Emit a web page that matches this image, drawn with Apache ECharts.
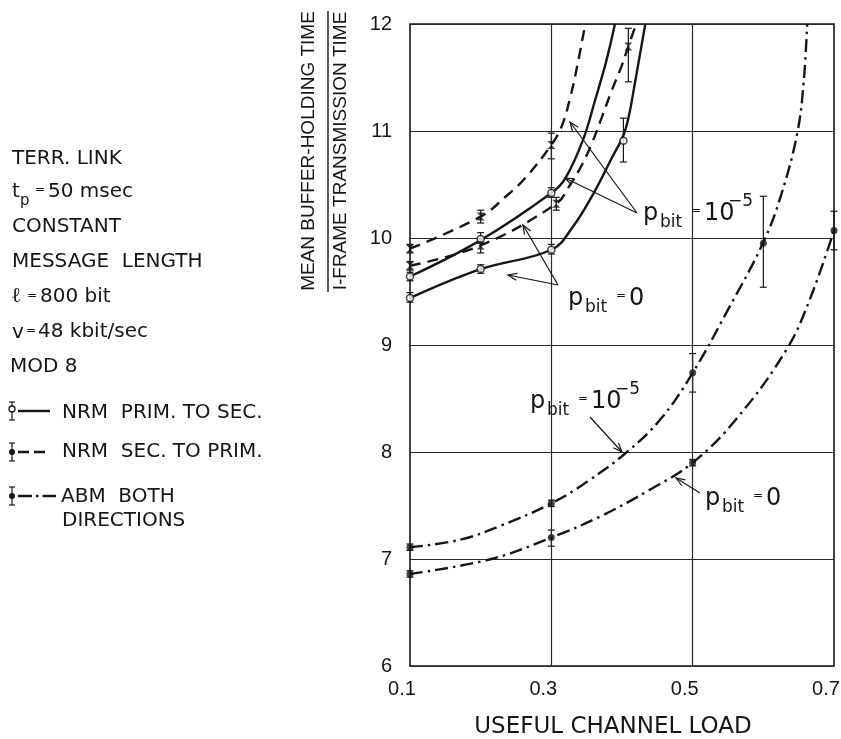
<!DOCTYPE html>
<html>
<head>
<meta charset="utf-8">
<title>Mean buffer-holding time vs useful channel load</title>
<script src="https://cdn.jsdelivr.net/npm/echarts@6/dist/echarts.min.js"></script>
<style>
  html, body { margin: 0; padding: 0; background: #fff; }
  #chart { width: 841px; height: 739px; }
</style>
</head>
<body>
<div id="chart"></div>
<script>
// fitted curves: [useful channel load, time ratio]
const nrmPrimP0 = [[0.1, 9.44], [0.2, 9.71], [0.3, 9.89], [0.33, 10.1], [0.36, 10.42], [0.385, 10.74], [0.402, 10.96], [0.41, 11.15], [0.417, 11.4], [0.425, 11.7], [0.433, 12]];
const nrmPrimP5 = [[0.1, 9.64], [0.2, 9.98], [0.3, 10.42], [0.32, 10.56], [0.345, 10.92], [0.362, 11.29], [0.378, 11.66], [0.39, 12]];
const nrmSecP0 = [[0.1, 9.74], [0.2, 9.93], [0.307, 10.32], [0.324, 10.47], [0.343, 10.68], [0.357, 10.88], [0.371, 11.12], [0.385, 11.37], [0.399, 11.6], [0.409, 11.79], [0.42, 12]];
const nrmSecP5 = [[0.1, 9.9], [0.2, 10.2], [0.236, 10.39], [0.263, 10.56], [0.3, 10.87], [0.315, 11.05], [0.327, 11.32], [0.337, 11.62], [0.348, 12]];
const abmP0 = [[0.1, 6.86], [0.215, 7.0], [0.3, 7.2], [0.37, 7.4], [0.44, 7.65], [0.5, 7.9], [0.562, 8.31], [0.633, 8.96], [0.666, 9.43], [0.7, 10.07]];
const abmP5 = [[0.1, 7.11], [0.171, 7.18], [0.228, 7.31], [0.3, 7.52], [0.35, 7.72], [0.407, 8.0], [0.455, 8.31], [0.5, 8.74], [0.55, 9.33], [0.6, 9.96], [0.626, 10.42], [0.648, 10.98], [0.657, 11.45], [0.662, 12]];

// simulation points: [load, mean, low, high]
const nrmPrimP0Pts = [[0.1, 9.44, 9.4, 9.49], [0.2, 9.71, 9.67, 9.75], [0.3, 9.89, 9.85, 9.94], [0.402, 10.91, 10.71, 11.12]];
const nrmPrimP5Pts = [[0.1, 9.64, 9.6, 9.68], [0.2, 9.99, 9.95, 10.05], [0.3, 10.42, 10.38, 10.47]];
const nrmSecP0Pts = [[0.1, 9.74, 9.7, 9.78], [0.2, 9.93, 9.86, 9.99], [0.307, 10.32, 10.26, 10.38], [0.409, 11.79, 11.46, 11.96]];
const nrmSecP5Pts = [[0.1, 9.9, 9.86, 9.94], [0.2, 10.2, 10.14, 10.26], [0.3, 10.87, 10.74, 10.98]];
const abmP0Pts = [[0.1, 6.86, 6.83, 6.89], [0.3, 7.2, 7.12, 7.27], [0.5, 7.9, 7.87, 7.93], [0.7, 10.07, 9.89, 10.25]];
const abmP5Pts = [[0.1, 7.11, 7.08, 7.14], [0.3, 7.52, 7.49, 7.55], [0.5, 8.74, 8.56, 8.92], [0.6, 9.95, 9.54, 10.39]];

const xLabels = [0.1, 0.3, 0.5, 0.7];
const xGrid = [0.3, 0.5];

const INK = '#161616';
const FONT = '"DejaVu Sans", sans-serif';
const NARROW = '"Liberation Sans", sans-serif';
const SOLID = 'solid';
const DASHED = [11, 7];
const DASHDOT = [13, 5, 2.5, 5];

function curve(name, data, type) {
  return {
    name: name, type: 'line', data: data, smooth: 0.4,
    symbol: 'none', silent: true, z: 3,
    lineStyle: { color: INK, width: 2.4, type: type }
  };
}

function errBars(pts) {
  return {
    type: 'custom', data: pts, silent: true, z: 4,
    encode: { x: 0, y: 1 },
    renderItem: function (params, api) {
      const x = api.value(0);
      const lo = api.coord([x, api.value(2)]);
      const hi = api.coord([x, api.value(3)]);
      const w = 3.5;
      const st = { stroke: INK, lineWidth: 1.2 };
      return {
        type: 'group',
        children: [
          { type: 'line', shape: { x1: lo[0], y1: lo[1], x2: hi[0], y2: hi[1] }, style: st },
          { type: 'line', shape: { x1: lo[0] - w, y1: lo[1], x2: lo[0] + w, y2: lo[1] }, style: st },
          { type: 'line', shape: { x1: hi[0] - w, y1: hi[1], x2: hi[0] + w, y2: hi[1] }, style: st }
        ]
      };
    }
  };
}

const HOURGLASS = 'path://M0,0L10,0L5,5L10,10L0,10L5,5Z';

function marks(pts, kind) {
  const s = { type: 'scatter', data: pts, encode: { x: 0, y: 1 }, silent: true, z: 5 };
  if (kind === 'open') {
    s.symbol = 'circle'; s.symbolSize = 7;
    s.itemStyle = { color: '#fff', borderColor: INK, borderWidth: 1.5 };
  } else if (kind === 'star') {
    s.symbol = HOURGLASS; s.symbolSize = 8;
    s.itemStyle = { color: INK };
  } else {
    s.symbol = 'circle'; s.symbolSize = 7;
    s.itemStyle = { color: INK };
  }
  return s;
}

// ---- graphic helpers (text, arrows, legend) ----
function txt(t, x, y, size, font) {
  return {
    type: 'text', x: x, y: y, silent: true, z: 10,
    style: { text: t, font: size + 'px ' + (font || FONT), fill: INK, align: 'left', verticalAlign: 'middle' }
  };
}

function arrow(sx, sy, tx, ty) {
  const dx = tx - sx, dy = ty - sy, len = Math.hypot(dx, dy);
  const ux = dx / len, uy = dy / len;
  const hl = 9, hw = 3.5;
  const bx = tx - ux * hl, by = ty - uy * hl;
  const st = { stroke: INK, lineWidth: 1.2, fill: null };
  return [
    { type: 'line', silent: true, z: 10, shape: { x1: sx, y1: sy, x2: tx, y2: ty }, style: st },
    { type: 'polyline', silent: true, z: 10, shape: { points: [[bx - uy * hw, by + ux * hw], [tx, ty], [bx + uy * hw, by - ux * hw]] }, style: st }
  ];
}

// "p_bit = value^exp" placed with p at (x, y)
function pbit(x, y, value, exp) {
  const els = [
    txt('p', x, y, 24),
    txt('bit', x + 17, y + 9, 17),
    txt('=', x + 48, y - 3, 12),
    txt(value, x + 61, y, 24)
  ];
  if (exp) els.push(txt(exp, x + 61 + 24, y - 12, 17));
  return els;
}

function legendRow(y, marker, dash, x2) {
  const st = { stroke: INK, lineWidth: 1.2 };
  const els = [
    { type: 'line', silent: true, shape: { x1: 12, y1: y - 9, x2: 12, y2: y + 9 }, style: st },
    { type: 'line', silent: true, shape: { x1: 9, y1: y - 9, x2: 15, y2: y - 9 }, style: st },
    { type: 'line', silent: true, shape: { x1: 9, y1: y + 9, x2: 15, y2: y + 9 }, style: st },
    { type: 'line', silent: true, shape: { x1: 18, y1: y, x2: x2, y2: y },
      style: { stroke: INK, lineWidth: 2.4, lineDash: dash === SOLID ? null : dash } }
  ];
  if (marker === 'open') {
    els.push({ type: 'circle', silent: true, shape: { cx: 12, cy: y - 2, r: 3 }, style: { fill: '#fff', stroke: INK, lineWidth: 1.3 } });
  } else {
    els.push({ type: 'circle', silent: true, shape: { cx: 12, cy: y, r: 3 }, style: { fill: INK } });
  }
  return els;
}

const notes = [].concat(
  // left-hand description
  txt('TERR. LINK', 12, 159, 20),
  txt('t', 12, 192, 20), txt('p', 20, 201, 15), txt('=', 35, 190, 12), txt('50 msec', 48, 192, 20),
  txt('CONSTANT', 12, 227, 20),
  txt('MESSAGE  LENGTH', 12, 262, 20),
  txt('ℓ', 11, 297, 21, '"DejaVu Serif", serif'), txt('=', 27, 296, 12), txt('800 bit', 40, 297, 20),
  txt('v', 12, 333, 20), txt('=', 26, 331, 12), txt('48 kbit/sec', 38, 332, 20),
  txt('MOD 8', 10, 367, 20),
  legendRow(411, 'open', SOLID, 50), txt('NRM  PRIM. TO SEC.', 62, 413, 20),
  legendRow(452, 'star', [11, 5], 49), txt('NRM  SEC. TO PRIM.', 62, 452, 20),
  legendRow(496, 'fill', [14, 4, 2.5, 4], 56), txt('ABM  BOTH', 61, 497, 20),
  txt('DIRECTIONS', 62, 521, 20),
  // y-axis title as a fraction
  { type: 'text', x: 309, y: 151, rotation: Math.PI / 2, silent: true,
    style: { text: 'MEAN BUFFER-HOLDING TIME', font: '19px ' + NARROW, fill: INK, align: 'center', verticalAlign: 'middle' } },
  { type: 'line', silent: true, shape: { x1: 328, y1: 11, x2: 328, y2: 292 }, style: { stroke: INK, lineWidth: 1.4 } },
  { type: 'text', x: 341, y: 151, rotation: Math.PI / 2, silent: true,
    style: { text: 'I-FRAME TRANSMISSION TIME', font: '19px ' + NARROW, fill: INK, align: 'center', verticalAlign: 'middle' } },
  // curve annotations
  pbit(643, 214, '10', '−5'), arrow(637, 213, 570, 122), arrow(637, 213, 565, 178),
  pbit(568, 299, '0'), arrow(558, 285, 523, 225), arrow(558, 285, 508, 275),
  pbit(530, 402, '10', '−5'), arrow(590, 417, 622, 452),
  pbit(705, 499, '0'), arrow(700, 493, 676, 478)
);

const chart = echarts.init(document.getElementById('chart'), null, { renderer: 'canvas' });
chart.setOption({
  animation: false,
  backgroundColor: '#fff',
  grid: {
    left: 410, right: 7, top: 24, bottom: 73, show: true,
    borderColor: INK, borderWidth: 1.6, containLabel: false, outerBoundsMode: 'none'
  },
  xAxis: {
    type: 'value', min: 0.1, max: 0.7, interval: 0.1,
    name: 'USEFUL CHANNEL LOAD', nameLocation: 'middle', nameGap: 50,
    nameTextStyle: { fontFamily: FONT, fontSize: 23, color: INK, padding: [0, 18, 0, 0] },
    axisLine: { show: false }, axisTick: { show: false }, splitLine: { show: false },
    axisLabel: {
      margin: 13, fontSize: 20, color: INK, fontFamily: NARROW, padding: [0, 16, 0, 0],
      showMinLabel: true, showMaxLabel: true,
      formatter: function (v) {
        return xLabels.some(function (l) { return Math.abs(l - v) < 1e-6; }) ? v.toFixed(1) : '';
      }
    }
  },
  yAxis: {
    type: 'value', min: 6, max: 12, interval: 1,
    axisLine: { show: false }, axisTick: { show: false },
    splitLine: { lineStyle: { color: '#2a2a2a', width: 1.2 } },
    axisLabel: { margin: 18, fontSize: 20, color: INK, fontFamily: NARROW }
  },
  series: [
    { type: 'line', data: [], silent: true, z: 1,
      markLine: { silent: true, symbol: 'none', label: { show: false },
        lineStyle: { color: '#2a2a2a', width: 1.2, type: 'solid' },
        emphasis: { disabled: true },
        data: xGrid.map(function (v) { return { xAxis: v }; }) } },
    curve('NRM prim. to sec., p=0', nrmPrimP0, SOLID),
    curve('NRM prim. to sec., p=1e-5', nrmPrimP5, SOLID),
    curve('NRM sec. to prim., p=0', nrmSecP0, DASHED),
    curve('NRM sec. to prim., p=1e-5', nrmSecP5, DASHED),
    curve('ABM, p=0', abmP0, DASHDOT),
    curve('ABM, p=1e-5', abmP5, DASHDOT),
    errBars(nrmPrimP0Pts), errBars(nrmPrimP5Pts), errBars(nrmSecP0Pts),
    errBars(nrmSecP5Pts), errBars(abmP0Pts), errBars(abmP5Pts),
    marks(nrmPrimP0Pts, 'open'), marks(nrmPrimP5Pts, 'open'),
    marks(nrmSecP0Pts, 'star'), marks(nrmSecP5Pts, 'star'),
    marks(abmP0Pts, 'fill'), marks(abmP5Pts, 'fill')
  ],
  graphic: { elements: notes }
});
</script>
</body>
</html>
